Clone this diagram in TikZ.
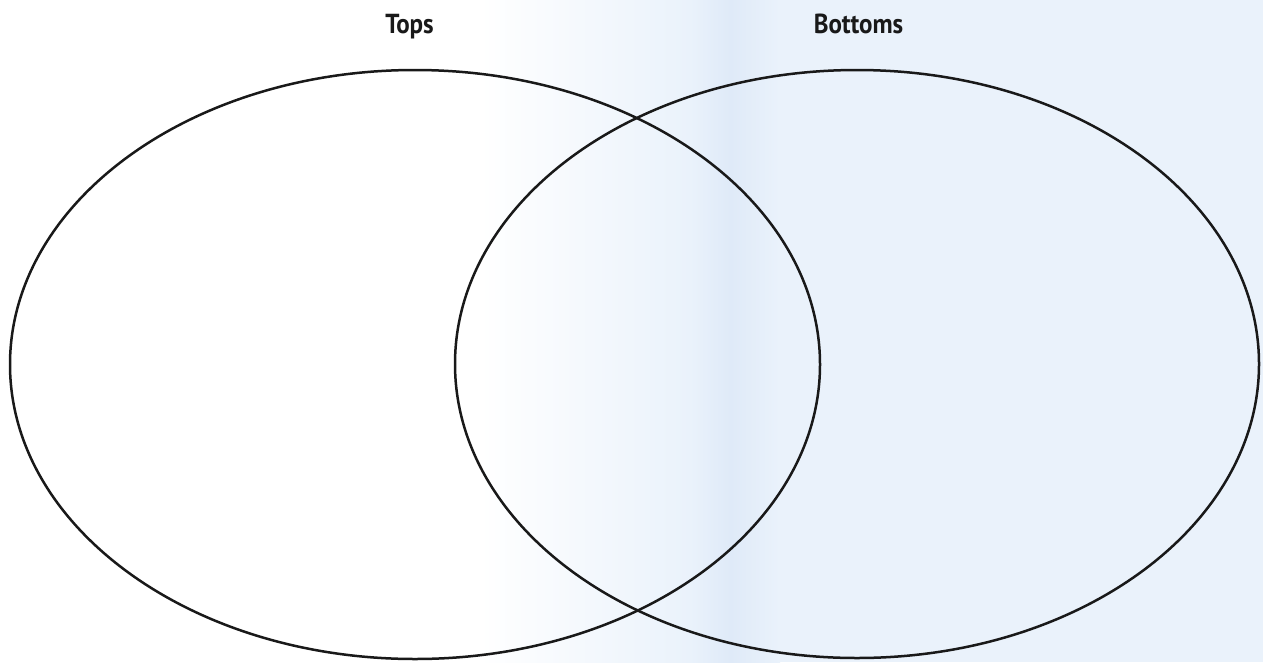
\documentclass[tikz,border=0pt]{standalone}
\usepackage{fontspec}
\newfontfamily\labelfont{PT Sans}
\usetikzlibrary{shadings}
\definecolor{paperblue}{HTML}{EAF2FB}
\definecolor{bandblue}{HTML}{DFEAF8}
\begin{document}
\begin{tikzpicture}[x=1pt,y=-1pt,
  setline/.style={draw=black!90,line width=2.5pt},
  setlabel/.style={font=\labelfont\bfseries\fontsize{25}{30}\selectfont,anchor=base,inner sep=0pt,text=black!90,yscale=1.1,transform shape}]
\useasboundingbox (0,0) rectangle (1263,662);
% paper tint
\fill[white] (0,0) rectangle (1263,662);
\shade[left color=white,right color=paperblue] (480,0) rectangle (690,662);
\shade[left color=paperblue,right color=bandblue] (690,0) rectangle (730,662);
\shade[left color=bandblue,right color=paperblue] (730,0) rectangle (780,662);
\fill[paperblue] (780,0) rectangle (1263,662);
% sets
\coordinate (topsC) at (415,364.5);
\coordinate (bottomsC) at (857,364);
\draw[setline] (topsC) ellipse [x radius=405, y radius=294.5];
\draw[setline] (bottomsC) ellipse [x radius=402, y radius=294];
% labels
\node[setlabel] (tops) at (409.5,33) {Tops};
\node[setlabel] (bottoms) at (858.5,33) {Bottoms};
\end{tikzpicture}
\end{document}
